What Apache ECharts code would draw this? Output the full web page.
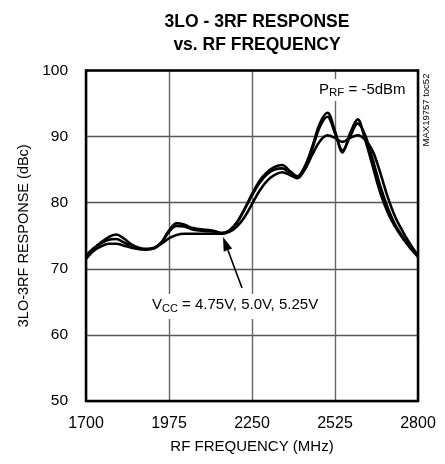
<!DOCTYPE html>
<html>
<head>
<meta charset="utf-8">
<script src="https://cdn.jsdelivr.net/npm/echarts@6/dist/echarts.min.js"></script>
<style>
  html, body { margin: 0; padding: 0; background: #fff; }
  #chart { width: 445px; height: 464px; }
</style>
</head>
<body>
<div id="chart"></div>
<script>
// RF frequency sample points (MHz)
const freqMHz = [1700, 1725, 1750, 1775, 1800, 1825, 1850, 1875, 1900, 1925, 1950, 1975, 2000, 2025, 2050,
  2075, 2100, 2125, 2150, 2175, 2200, 2225, 2250, 2275, 2300, 2325, 2350, 2375, 2400, 2425, 2450,
  2475, 2500, 2525, 2550, 2575, 2600, 2625, 2650, 2675, 2700, 2725, 2750, 2775, 2800];

// 3LO-3RF response (dBc) for each supply voltage
const vcc475 = [71.8, 73.0, 74.0, 74.8, 75.2, 74.6, 73.7, 73.2, 73.0, 73.1, 74.0, 75.8, 76.9, 76.7, 76.2,
  76.0, 75.9, 75.7, 75.4, 75.8, 77.0, 79.0, 81.3, 83.3, 84.6, 85.4, 85.7, 84.8, 84.0, 85.5, 88.5,
  92.0, 93.6, 90.8, 87.6, 90.5, 92.6, 89.5, 85.5, 81.5, 78.5, 76.3, 74.6, 73.1, 71.8];
const vcc500 = [72.0, 73.1, 73.9, 74.4, 74.5, 74.0, 73.4, 73.0, 72.9, 73.1, 74.0, 75.6, 76.5, 76.4, 76.0,
  75.8, 75.7, 75.6, 75.4, 75.8, 77.0, 79.0, 81.1, 83.0, 84.3, 85.0, 85.2, 84.5, 83.8, 85.3, 88.2,
  91.5, 93.0, 90.5, 87.9, 90.0, 92.0, 90.2, 86.5, 82.5, 79.2, 76.6, 74.8, 73.3, 72.0];
const vcc525 = [71.5, 72.7, 73.4, 73.8, 73.8, 73.5, 73.2, 73.0, 73.0, 73.2, 73.8, 74.6, 75.1, 75.3, 75.3,
  75.3, 75.3, 75.3, 75.3, 75.6, 76.4, 77.8, 79.8, 81.8, 83.3, 84.2, 84.6, 84.2, 83.7, 85.0, 87.3,
  89.3, 90.2, 89.8, 89.2, 89.8, 90.2, 89.5, 87.8, 84.5, 80.8, 77.8, 75.6, 73.7, 72.0];

// Axis tick values
const freqTicks = [1700, 1975, 2250, 2525, 2800];
const respTicks = [50, 60, 70, 80, 90, 100];

const FONT = "'Liberation Sans', Arial, Helvetica, sans-serif";

const pair = (ys) => freqMHz.map((f, i) => [f, ys[i]]);

const chart = echarts.init(document.getElementById('chart'), null, { renderer: 'canvas' });

const lineSeries = (name, ys) => ({
  name, type: 'line', data: pair(ys), smooth: 0.35, showSymbol: false, symbol: 'none',
  lineStyle: { color: '#000', width: 2.6 }, z: 3, animation: false
});

chart.setOption({
  animation: false,
  backgroundColor: '#fff',
  title: {
    text: '3LO - 3RF RESPONSE\nvs. RF FREQUENCY',
    left: 252, top: 6, textAlign: 'center',
    textStyle: { fontFamily: FONT, fontWeight: 'bold', fontSize: 17.5, lineHeight: 23, color: '#000' }
  },
  grid: { left: 86, right: 27, top: 70.5, bottom: 63, show: true, borderColor: '#000', borderWidth: 2.5, backgroundColor: 'transparent', z: 4 },
  xAxis: {
    type: 'value', min: freqTicks[0], max: freqTicks[freqTicks.length - 1],
    name: 'RF FREQUENCY (MHz)', nameLocation: 'middle', nameGap: 38,
    nameTextStyle: { fontFamily: FONT, fontSize: 15, color: '#000' },
    axisLine: { show: false },
    axisTick: { show: false, customValues: freqTicks },
    axisLabel: { customValues: freqTicks, formatter: (v) => String(v), fontFamily: FONT, fontSize: 16, color: '#000', margin: 15 },
    splitLine: { show: true, lineStyle: { color: '#666', width: 1.4 } }
  },
  yAxis: {
    type: 'value', min: respTicks[0], max: respTicks[respTicks.length - 1], interval: 10,
    name: '3LO-3RF RESPONSE (dBc)', nameLocation: 'middle', nameGap: 54,
    nameTextStyle: { fontFamily: FONT, fontSize: 14.5, color: '#000' },
    axisLine: { show: false },
    axisTick: { show: false },
    axisLabel: { fontFamily: FONT, fontSize: 15.5, color: '#000', margin: 18 },
    splitLine: { show: true, lineStyle: { color: '#555', width: 1.4 } }
  },
  series: [
    lineSeries('VCC = 4.75V', vcc475),
    lineSeries('VCC = 5.0V', vcc500),
    lineSeries('VCC = 5.25V', vcc525)
  ]
});

// Annotations: arrow from label to the converging curves, plus text blocks
const tip = chart.convertToPixel({ gridIndex: 0 }, [2154, 74.8]);
const tail = chart.convertToPixel({ gridIndex: 0 }, [2217, 67.1]);
const dx = tip[0] - tail[0], dy = tip[1] - tail[1];
const len = Math.hypot(dx, dy);
const ux = dx / len, uy = dy / len;
const headLen = 14, headHalf = 4.5;
const base = [tip[0] - ux * headLen, tip[1] - uy * headLen];
const head = [
  tip,
  [base[0] - uy * headHalf, base[1] + ux * headHalf],
  [base[0] + uy * headHalf, base[1] - ux * headHalf]
];

chart.setOption({
  graphic: [
    {
      type: 'line', z: 10,
      shape: { x1: tail[0], y1: tail[1], x2: base[0], y2: base[1] },
      style: { stroke: '#000', lineWidth: 1.6 }
    },
    {
      type: 'polygon', z: 10,
      shape: { points: head },
      style: { fill: '#000' }
    },
    {
      type: 'text', z: 10, left: 149, top: 294,
      style: {
        text: '{m|V}{s|CC}{m| = 4.75V, 5.0V, 5.25V}',
        backgroundColor: '#fff', padding: [2, 3, 5, 3],
        rich: {
          m: { fontFamily: FONT, fontSize: 15, color: '#000', lineHeight: 18 },
          s: { fontFamily: FONT, fontSize: 11, color: '#000', verticalAlign: 'bottom', padding: [7, 0, 0, 0] }
        }
      }
    },
    {
      type: 'text', z: 10, left: 318, top: 79,
      style: {
        text: '{m|P}{s|RF}{m| = -5dBm}',
        backgroundColor: '#fff', padding: [1, 2, 2, 1],
        rich: {
          m: { fontFamily: FONT, fontSize: 15, color: '#000', lineHeight: 17 },
          s: { fontFamily: FONT, fontSize: 11.5, color: '#000', verticalAlign: 'bottom', padding: [7, 0, 0, 0] }
        }
      }
    },
    {
      type: 'text', z: 10, x: 426, y: 110, rotation: Math.PI / 2,
      style: {
        text: 'MAX19757 toc52', fontFamily: FONT, fontSize: 9.5, fill: '#000',
        align: 'center', verticalAlign: 'middle'
      }
    }
  ]
});
</script>
</body>
</html>
